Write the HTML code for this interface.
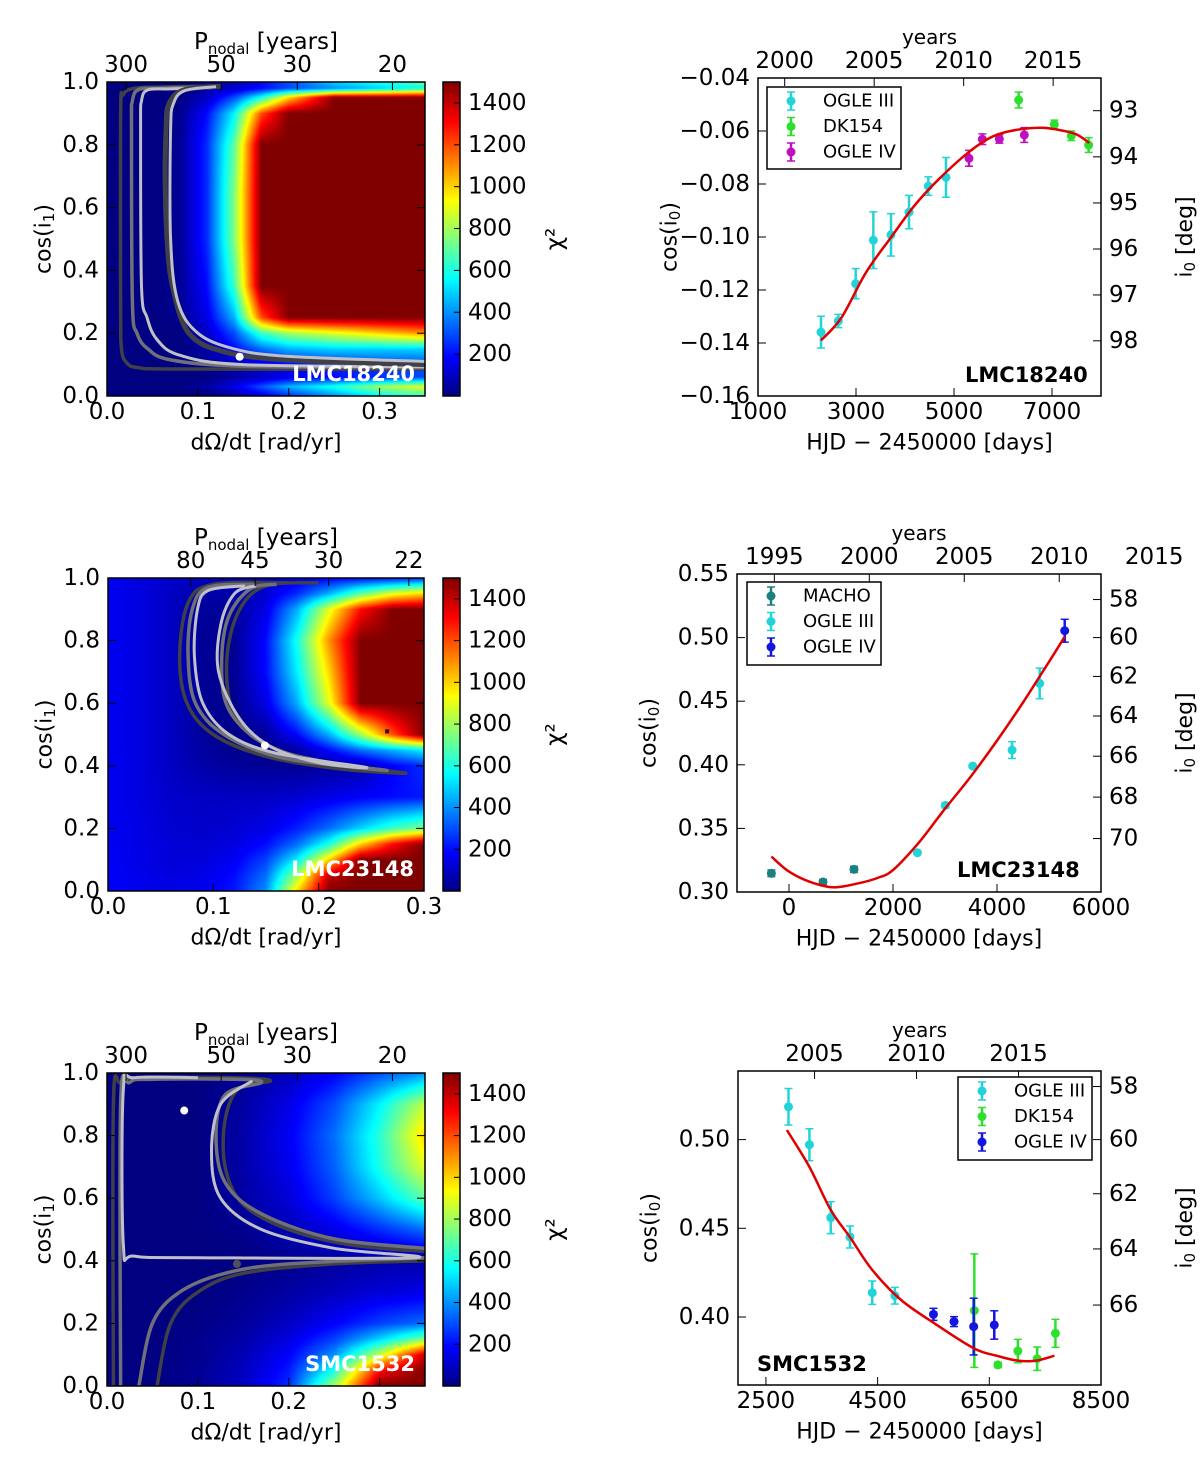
<!DOCTYPE html>
<html><head><meta charset="utf-8">
<style>
html,body{margin:0;padding:0;background:#fff;}
#wrap{position:relative;width:1200px;height:1480px;overflow:hidden;background:#fff;}
canvas{position:absolute;}
svg{position:absolute;left:0;top:0;}
text{font-family:"DejaVu Sans","Liberation Sans",sans-serif;fill:#000;}
</style></head>
<body>
<div id="wrap">
<canvas id="h1"></canvas>
<canvas id="h2"></canvas>
<canvas id="h3"></canvas>
<canvas id="cb1"></canvas>
<canvas id="cb2"></canvas>
<canvas id="cb3"></canvas>
<svg id="svg" width="1200" height="1480" xmlns="http://www.w3.org/2000/svg"></svg>
</div>
<script>
// ---------- heatmap data (chi2 grids) ----------
const p1_xs=[0,0.05,0.08,0.11,0.14,0.17,0.2,0.25,0.3,0.35];
const p1_ys=[0,0.03,0.06,0.1,0.15,0.2,0.25,0.35,0.5,0.65,0.8,0.9,0.95,0.98,1.0];
const p1_chi2=[
[0,0,0,0,50,150,250,400,550,650],
[0,0,0,50,150,300,450,600,800,900],
[0,0,0,0,50,100,150,200,250,300],
[0,0,0,30,80,150,200,250,280,300],
[0,0,0,60,200,350,450,500,500,500],
[0,0,0,100,300,650,800,900,1000,1100],
[0,0,20,150,450,1200,1500,1500,1500,1500],
[0,0,30,200,650,1500,1500,1500,1500,1500],
[0,0,30,250,750,1500,1500,1500,1500,1500],
[0,0,30,250,750,1500,1500,1500,1500,1500],
[0,0,30,250,700,1500,1500,1500,1500,1500],
[0,0,20,200,550,1200,1500,1500,1500,1500],
[0,0,0,100,300,600,1000,1500,1500,1500],
[0,0,0,50,100,200,300,400,500,600],
[0,0,0,50,100,200,300,500,600,700]];
const p2_xs=[0,0.03,0.06,0.09,0.12,0.15,0.18,0.21,0.24,0.27,0.3];
const p2_ys=[0,0.05,0.1,0.15,0.2,0.3,0.4,0.45,0.5,0.6,0.7,0.8,0.9,0.95,1.0];
const p2_chi2=[
[180,160,150,160,220,400,1000,1500,1500,1500,1500],
[180,160,140,150,200,350,800,1400,1500,1500,1500],
[180,150,130,130,170,280,550,1000,1500,1500,1500],
[170,150,130,120,140,200,350,600,1000,1300,1500],
[170,150,120,110,120,150,230,350,500,650,750],
[170,140,110,100,100,100,120,150,180,200,220],
[170,140,100,60,40,30,30,40,60,180,250],
[170,140,100,50,20,20,50,200,350,450,550],
[170,140,100,40,10,40,200,450,800,1200,1500],
[170,140,100,30,20,150,450,900,1500,1500,1500],
[170,140,100,30,30,200,550,1000,1500,1500,1500],
[170,140,100,30,30,200,600,1100,1500,1500,1500],
[170,140,100,40,40,150,450,900,1300,1500,1500],
[170,140,100,60,60,120,250,450,700,900,1000],
[170,140,110,100,100,120,150,180,200,220,250]];
const p3_xs=[0,0.05,0.1,0.15,0.2,0.25,0.3,0.35];
const p3_ys=[0,0.05,0.1,0.15,0.2,0.3,0.4,0.5,0.6,0.7,0.8,0.9,1.0];
const p3_chi2=[
[0,0,30,100,250,800,1500,1500],
[0,0,30,90,220,600,1300,1500],
[0,0,20,80,180,400,850,1400],
[0,0,20,60,140,280,500,750],
[0,0,10,40,100,180,280,350],
[0,0,0,20,50,90,130,150],
[0,0,0,0,20,40,60,60],
[0,0,0,20,80,150,250,350],
[0,0,0,50,130,280,480,700],
[0,0,0,60,160,330,600,900],
[0,0,0,60,170,350,620,1000],
[0,0,0,50,150,300,550,850],
[0,0,0,30,90,180,300,400]];
// contours [x,y] in data units
const p1_contour_dark1=[[0.126,0.987],[0.06,0.984],[0.03,0.98],[0.018,0.96],[0.015,0.9],[0.015,0.3],[0.016,0.15],[0.022,0.105],[0.035,0.09],[0.08,0.086],[0.35,0.085]];
const p1_contour_gray1=[[0.11,0.985],[0.06,0.98],[0.035,0.976],[0.028,0.94],[0.027,0.85],[0.028,0.3],[0.033,0.2],[0.045,0.15],[0.07,0.115],[0.15,0.095],[0.35,0.09]];
const p1_contour_light1=[[0.115,0.982],[0.07,0.978],[0.045,0.975],[0.038,0.94],[0.037,0.85],[0.038,0.35],[0.044,0.25],[0.055,0.18],[0.08,0.13],[0.15,0.1],[0.35,0.093]];
const p1_contour_dark2=[[0.126,0.987],[0.085,0.975],[0.068,0.93],[0.065,0.85],[0.064,0.7],[0.066,0.5],[0.072,0.35],[0.09,0.2],[0.13,0.14],[0.2,0.115],[0.35,0.1]];
const p1_contour_light2=[[0.12,0.985],[0.085,0.972],[0.073,0.93],[0.07,0.85],[0.07,0.5],[0.078,0.3],[0.1,0.2],[0.14,0.15],[0.2,0.126],[0.35,0.11]];
const p1_best=[0.146,0.125];
const p2_contour_dark=[[0.17,0.985],[0.1,0.98],[0.076,0.92],[0.068,0.75],[0.075,0.6],[0.1,0.5],[0.15,0.43],[0.22,0.39],[0.282,0.376],[0.25,0.39],[0.19,0.42],[0.145,0.48],[0.118,0.58],[0.113,0.75],[0.125,0.9],[0.15,0.975],[0.2,0.985]];
const p2_contour_gray=[[0.14,0.98],[0.095,0.97],[0.08,0.9],[0.076,0.75],[0.083,0.6],[0.11,0.5],[0.16,0.43],[0.22,0.4],[0.265,0.385],[0.22,0.405],[0.17,0.44],[0.135,0.5],[0.112,0.6],[0.108,0.75],[0.115,0.88],[0.135,0.965],[0.16,0.98]];
const p2_contour_light=[[0.13,0.975],[0.095,0.96],[0.085,0.9],[0.082,0.75],[0.09,0.6],[0.115,0.5],[0.16,0.44],[0.245,0.395],[0.2,0.41],[0.155,0.46],[0.125,0.55],[0.105,0.7],[0.107,0.85],[0.12,0.95],[0.14,0.975]];
const p2_best=[0.149,0.465];
const p3_contour_dark1=[[0.007,0],[0.007,0.9],[0.015,0.97],[0.035,0.985],[0.14,0.985],[0.18,0.975],[0.145,0.95],[0.13,0.85],[0.13,0.7],[0.15,0.58],[0.2,0.5],[0.27,0.45],[0.35,0.43]];
const p3_contour_dark2=[[0.055,0],[0.07,0.2],[0.1,0.3],[0.15,0.36],[0.25,0.39],[0.35,0.4]];
const p3_contour_gray1=[[0.015,0],[0.015,0.9],[0.025,0.97],[0.05,0.98],[0.14,0.98],[0.17,0.97],[0.13,0.93],[0.12,0.8],[0.13,0.65],[0.17,0.55],[0.25,0.47],[0.35,0.44]];
const p3_contour_gray2=[[0.035,0],[0.05,0.2],[0.08,0.3],[0.13,0.36],[0.2,0.39],[0.35,0.41]];
const p3_contour_light=[[0.1,0.985],[0.03,0.985],[0.018,0.95],[0.018,0.45],[0.03,0.415],[0.1,0.41],[0.34,0.41],[0.25,0.44],[0.17,0.5],[0.125,0.6],[0.115,0.75],[0.125,0.9],[0.16,0.975]];
const p3_best=[0.085,0.88];
const p3_mark=[0.143,0.39];
// colorbar ticks
const cb_ticks=[200,400,600,800,1000,1200,1400];
// ---------- right panels data ----------
const r1_ogle3_t=[2286,2639,2993,3354,3714,4082,4476,4837];
const r1_ogle3_v=[-0.1359,-0.1317,-0.1176,-0.1012,-0.0992,-0.0906,-0.0808,-0.0775];
const r1_ogle3_e=[0.006,0.0025,0.0057,0.0107,0.008,0.0063,0.0035,0.0075];
const r1_dk_t=[6320,7047,7394,7748];
const r1_dk_v=[-0.0483,-0.0575,-0.0618,-0.0653];
const r1_dk_e=[0.003,0.0016,0.0018,0.0028];
const r1_ogle4_t=[5306,5578,5925,6435];
const r1_ogle4_v=[-0.0703,-0.0631,-0.063,-0.0615];
const r1_ogle4_e=[0.003,0.002,0.0016,0.0028];
const r1_fit_t=[2286,2700,3200,3700,4200,4700,5300,5800,6300,6800,7200,7500,7760];
const r1_fit_v=[-0.139,-0.1305,-0.1135,-0.1005,-0.088,-0.078,-0.068,-0.062,-0.0595,-0.0588,-0.0598,-0.0613,-0.0645];
const r2_macho_t=[-339,654,1250];
const r2_macho_v=[0.3147,0.3079,0.3178];
const r2_macho_e=[0.0026,0.002,0.0024];
const r2_ogle3_t=[2469,3007,3533,4290,4821];
const r2_ogle3_v=[0.3309,0.3681,0.399,0.4116,0.464];
const r2_ogle3_e=[0.001,0.002,0.001,0.0066,0.012];
const r2_ogle4_t=[5302];
const r2_ogle4_v=[0.5054];
const r2_ogle4_e=[0.009];
const r2_fit_t=[-339,0,400,850,1300,1700,2000,2500,3000,3500,4000,4500,5000,5302];
const r2_fit_v=[0.3278,0.316,0.308,0.3037,0.3065,0.311,0.3173,0.339,0.3655,0.391,0.419,0.449,0.481,0.5007];
const r3_ogle3_t=[2904,3279,3661,4005,4404,4809];
const r3_ogle3_v=[0.5185,0.4971,0.456,0.4451,0.4137,0.412];
const r3_ogle3_e=[0.0103,0.009,0.009,0.0062,0.0066,0.0047];
const r3_dk_t=[6232,6654,7011,7357,7684];
const r3_dk_v=[0.4036,0.373,0.3808,0.3765,0.3908];
const r3_dk_e=[0.032,0.0015,0.0066,0.0066,0.0079];
const r3_ogle4_t=[5500,5868,6220,6589];
const r3_ogle4_v=[0.4015,0.3974,0.3946,0.3955];
const r3_ogle4_e=[0.0034,0.0028,0.016,0.008];
const r3_fit_t=[2875,3279,3661,4005,4404,4921,5518,6220,6650,7011,7339,7666];
const r3_fit_v=[0.5054,0.4846,0.4603,0.445,0.4265,0.4096,0.3964,0.3824,0.378,0.3754,0.3754,0.3782];

// ---------- helpers ----------
const NS='http://www.w3.org/2000/svg';
const svg=document.getElementById('svg');
function mk(tag,attrs,name,parent){
  const el=document.createElementNS(NS,tag);
  for(const k in attrs) el.setAttribute(k,attrs[k]);
  
  
  (parent||svg).appendChild(el);
  return el;
}
function txt(x,y,s,name,opts){
  opts=opts||{};
  const t=mk('text',{x:x,y:y,'font-size':opts.size||23,'text-anchor':opts.anchor||'middle','dominant-baseline':'central'},name);
  if(opts.weight) t.setAttribute('font-weight',opts.weight);
  if(opts.fill) t.setAttribute('style','fill:'+opts.fill);
  if(opts.rot) t.setAttribute('transform','rotate('+opts.rot+' '+x+' '+y+')');
  t.textContent=s;
  return t;
}
function jet(t){
  t=Math.max(0,Math.min(1,t));
  const c=v=>Math.round(255*Math.max(0,Math.min(1,v)));
  return [c(1.5-Math.abs(4*t-3)),c(1.5-Math.abs(4*t-2)),c(1.5-Math.abs(4*t-1))];
}
function idx(arr,v){for(let i=0;i<arr.length-1;i++){if(v<=arr[i+1])return i;}return arr.length-2;}
function drawHeat(id,box,xmax,xs,ys,vals){
  const cv=document.getElementById(id);
  const W=box.x1-box.x0,H=box.y1-box.y0;
  cv.width=W;cv.height=H;cv.style.left=box.x0+'px';cv.style.top=box.y0+'px';
  const ctx=cv.getContext('2d');const img=ctx.createImageData(W,H);
  for(let py=0;py<H;py++){
    const y=1-(py+0.5)/H;const j=idx(ys,y);const fy=(y-ys[j])/(ys[j+1]-ys[j]);
    for(let px=0;px<W;px++){
      const x=(px+0.5)/W*xmax;const i=idx(xs,x);const fx=(x-xs[i])/(xs[i+1]-xs[i]);
      const v=(vals[j][i]*(1-fx)+vals[j][i+1]*fx)*(1-fy)+(vals[j+1][i]*(1-fx)+vals[j+1][i+1]*fx)*fy;
      const c=jet(v/1500);const k=(py*W+px)*4;
      img.data[k]=c[0];img.data[k+1]=c[1];img.data[k+2]=c[2];img.data[k+3]=255;
    }
  }
  ctx.putImageData(img,0,0);
}
function drawColorbar(id,box){
  const cv=document.getElementById(id);
  const W=box.x1-box.x0,H=box.y1-box.y0;
  cv.width=W;cv.height=H;cv.style.left=box.x0+'px';cv.style.top=box.y0+'px';
  const ctx=cv.getContext('2d');
  for(let py=0;py<H;py++){const c=jet(1-py/H);ctx.fillStyle='rgb('+c+')';ctx.fillRect(0,py,W,1);}
  mk('rect',{x:box.x0,y:box.y0,width:W,height:H,fill:'none',stroke:'#000','stroke-width':1.5},'colorbar-frame');
  const sy=v=>box.y1-v/1500*H;
  cb_ticks.forEach(v=>{
    mk('line',{x1:box.x1-6,x2:box.x1,y1:sy(v),y2:sy(v),stroke:'#000','stroke-width':1},'colorbar-tick');
    txt(box.x1+8,sy(v),String(v),'colorbar-tick-label',{anchor:'start'});
  });
  txt(box.x1+95,(box.y0+box.y1)/2,'χ²','colorbar-label',{rot:-90,size:23});
}
function smoothPath(xs,ys,sx,sy){
  const P=xs.map((x,i)=>[sx(x),sy(ys[i])]);
  let d='M'+P[0][0].toFixed(1)+' '+P[0][1].toFixed(1);
  for(let i=0;i<P.length-1;i++){
    const p0=P[Math.max(0,i-1)],p1=P[i],p2=P[i+1],p3=P[Math.min(P.length-1,i+2)];
    const c1=[p1[0]+(p2[0]-p0[0])/6,p1[1]+(p2[1]-p0[1])/6];
    const c2=[p2[0]-(p3[0]-p1[0])/6,p2[1]-(p3[1]-p1[1])/6];
    d+=' C'+c1.map(v=>v.toFixed(1)).join(' ')+' '+c2.map(v=>v.toFixed(1)).join(' ')+' '+p2[0].toFixed(1)+' '+p2[1].toFixed(1);
  }
  return d;
}

// ---------- left panels ----------
function leftPanel(n,box,xmax,xticks,ptop,xs,ys,vals,contours,label,extras){
  drawHeat('h'+n,box,xmax,xs,ys,vals);
  const sx=x=>box.x0+x/xmax*(box.x1-box.x0);
  const sy=y=>box.y1-y*(box.y1-box.y0);
  const cp=mk('clipPath',{id:'clipL'+n},'clip');
  mk('rect',{x:box.x0,y:box.y0,width:box.x1-box.x0,height:box.y1-box.y0},'clip-rect',cp);
  const g=mk('g',{'clip-path':'url(#clipL'+n+')'},'contour-group');
  contours.forEach(c=>{
    mk('path',{d:smoothPath(c.pts.map(p=>p[0]),c.pts.map(p=>p[1]),sx,sy),fill:'none',stroke:c.col,'stroke-width':c.w||3.5,'stroke-linejoin':'round'},'contour-line',g);
  });
  extras(sx,sy,g);
  txt(box.x1-10,box.y1-22,label,'panel-label',{anchor:'end',weight:'bold',fill:'#fff',size:21});
  mk('rect',{x:box.x0,y:box.y0,width:box.x1-box.x0,height:box.y1-box.y0,fill:'none',stroke:'#000','stroke-width':1.5},'plot-frame');
  xticks.forEach(v=>{
    mk('line',{x1:sx(v),x2:sx(v),y1:box.y1,y2:box.y1-8,stroke:'#000'},'x-tick');
    txt(sx(v),box.y1+16,v.toFixed(1),'x-tick-label');
  });
  [0,0.2,0.4,0.6,0.8,1.0].forEach(v=>{
    mk('line',{x1:box.x0,x2:box.x0+8,y1:sy(v),y2:sy(v),stroke:'#000'},'y-tick');
    mk('line',{x1:box.x1,x2:box.x1-8,y1:sy(v),y2:sy(v),stroke:'#000'},'y-tick-right');
    txt(box.x0-8,sy(v),v.toFixed(1),'y-tick-label',{anchor:'end'});
  });
  ptop.forEach(P=>{
    const x=sx(2*Math.PI/P);
    mk('line',{x1:x,x2:x,y1:box.y0,y2:box.y0+8,stroke:'#000'},'top-tick');
    txt(x,box.y0-17,String(P),'top-tick-label');
  });
  const t=mk('text',{x:(box.x0+box.x1)/2,y:box.y0-40,'font-size':23,'text-anchor':'middle','dominant-baseline':'central'},'top-axis-title');
  t.innerHTML='P<tspan font-size="15" dy="7">nodal</tspan><tspan dy="-7"> [years]</tspan>';
  txt((box.x0+box.x1)/2,box.y1+47,'dΩ/dt [rad/yr]','x-axis-title',{size:22});
  const yl=mk('text',{x:box.x0-63,y:(box.y0+box.y1)/2,'font-size':22,'text-anchor':'middle','dominant-baseline':'central',transform:'rotate(-90 '+(box.x0-63)+' '+((box.y0+box.y1)/2)+')'},'y-axis-title');
  yl.innerHTML='cos(i<tspan font-size="15" dy="5">1</tspan><tspan dy="-5">)</tspan>';
}
const DK='#404048',GR='#707078',LT='#c0c0c8';
leftPanel(1,{x0:107,x1:425,y0:82,y1:396},0.35,[0,0.1,0.2,0.3],[300,50,30,20],p1_xs,p1_ys,p1_chi2,
 [{pts:p1_contour_dark1,col:DK},{pts:p1_contour_gray1,col:GR},{pts:p1_contour_light1,col:LT,w:3},{pts:p1_contour_dark2,col:DK,w:5},{pts:p1_contour_light2,col:LT,w:3}],
 'LMC18240',(sx,sy,g)=>{mk('circle',{cx:sx(p1_best[0]),cy:sy(p1_best[1]),r:4,fill:'#fff'},'best-fit-point',g);});
drawColorbar('cb1',{x0:443,x1:460,y0:82,y1:396});
leftPanel(2,{x0:108,x1:424,y0:578,y1:891},0.3,[0,0.1,0.2,0.3],[80,45,30,22],p2_xs,p2_ys,p2_chi2,
 [{pts:p2_contour_dark,col:DK},{pts:p2_contour_gray,col:GR},{pts:p2_contour_light,col:LT,w:3}],
 'LMC23148',(sx,sy,g)=>{mk('circle',{cx:sx(p2_best[0]),cy:sy(p2_best[1]),r:4,fill:'#fff'},'best-fit-point',g);
   mk('rect',{x:sx(0.265)-2,y:sy(0.51)-2,width:4,height:4,fill:'#400'},'local-minimum',g);});
drawColorbar('cb2',{x0:443,x1:460,y0:578,y1:891});
leftPanel(3,{x0:107,x1:425,y0:1073,y1:1386},0.35,[0,0.1,0.2,0.3],[300,50,30,20],p3_xs,p3_ys,p3_chi2,
 [{pts:p3_contour_dark1,col:DK},{pts:p3_contour_dark2,col:DK},{pts:p3_contour_gray1,col:GR},{pts:p3_contour_gray2,col:GR},{pts:p3_contour_light,col:LT,w:3}],
 'SMC1532',(sx,sy,g)=>{mk('circle',{cx:sx(p3_best[0]),cy:sy(p3_best[1]),r:4,fill:'#fff'},'best-fit-point',g);
   mk('circle',{cx:sx(p3_mark[0]),cy:sy(p3_mark[1]),r:4,fill:'#505058'},'secondary-point',g);});
drawColorbar('cb3',{x0:443,x1:460,y0:1073,y1:1386});

// ---------- right panels ----------
function rightPanel(box,tmin,tmax,vmin,vmax,xticks,yticks,ydec,years,degs,series,fit,legendBox,label,labelPos){
  const sx=t=>box.x0+(t-tmin)/(tmax-tmin)*(box.x1-box.x0);
  const sy=v=>box.y1-(v-vmin)/(vmax-vmin)*(box.y1-box.y0);
  mk('rect',{x:box.x0,y:box.y0,width:box.x1-box.x0,height:box.y1-box.y0,fill:'#fff',stroke:'none'},'plot-background');
  const cp=mk('clipPath',{id:'clipR'+box.y0},'clip');
  mk('rect',{x:box.x0,y:box.y0,width:box.x1-box.x0,height:box.y1-box.y0},'clip-rect',cp);
  const g=mk('g',{'clip-path':'url(#clipR'+box.y0+')'},'series-group');
  series.forEach(s=>{
    s.t.forEach((t,i)=>{
      const x=sx(t),y=sy(s.v[i]),ya=sy(s.v[i]+s.e[i]),yb=sy(s.v[i]-s.e[i]);
      mk('line',{x1:x,x2:x,y1:ya,y2:yb,stroke:s.col,'stroke-width':2.5},'error-bar',g);
      mk('line',{x1:x-4,x2:x+4,y1:ya,y2:ya,stroke:s.col,'stroke-width':1.5},'error-cap',g);
      mk('line',{x1:x-4,x2:x+4,y1:yb,y2:yb,stroke:s.col,'stroke-width':1.5},'error-cap',g);
      mk('circle',{cx:x,cy:y,r:4.5,fill:s.col},'data-point',g);
    });
  });
  mk('path',{d:smoothPath(fit.t,fit.v,sx,sy),fill:'none',stroke:'#e00000','stroke-width':2.5},'fit-curve',g);
  mk('rect',{x:box.x0,y:box.y0,width:box.x1-box.x0,height:box.y1-box.y0,fill:'none',stroke:'#000','stroke-width':1.5},'plot-frame');
  xticks.forEach(v=>{
    mk('line',{x1:sx(v),x2:sx(v),y1:box.y1,y2:box.y1-8,stroke:'#000'},'x-tick');
    txt(sx(v),box.y1+16,String(v),'x-tick-label');
  });
  yticks.forEach(v=>{
    mk('line',{x1:box.x0,x2:box.x0+8,y1:sy(v),y2:sy(v),stroke:'#000'},'y-tick');
    txt(box.x0-8,sy(v),(v<0?'−':'')+Math.abs(v).toFixed(ydec),'y-tick-label',{anchor:'end'});
  });
  years.forEach(yr=>{
    const x=sx((yr-2000)*365.25+1544.5);
    if(x<=box.x1+1) mk('line',{x1:x,x2:x,y1:box.y0,y2:box.y0+8,stroke:'#000'},'top-tick');
    txt(x,box.y0-17,String(yr),'top-tick-label');
  });
  degs.forEach(d=>{
    const y=sy(Math.cos(d*Math.PI/180));
    mk('line',{x1:box.x1,x2:box.x1-8,y1:y,y2:y,stroke:'#000'},'right-tick');
    txt(box.x1+8,y,String(d),'right-tick-label',{anchor:'start'});
  });
  txt((box.x0+box.x1)/2,box.y0-41,'years','top-axis-title',{size:20});
  txt((box.x0+box.x1)/2,box.y1+47,'HJD − 2450000 [days]','x-axis-title',{size:22});
  const yl=mk('text',{x:box.x0-88,y:(box.y0+box.y1)/2,'font-size':22,'text-anchor':'middle','dominant-baseline':'central',transform:'rotate(-90 '+(box.x0-88)+' '+((box.y0+box.y1)/2)+')'},'y-axis-title');
  yl.innerHTML='cos(i<tspan font-size="15" dy="5">0</tspan><tspan dy="-5">)</tspan>';
  const rl=mk('text',{x:1185,y:(box.y0+box.y1)/2,'font-size':22,'text-anchor':'middle','dominant-baseline':'central',transform:'rotate(-90 1185 '+((box.y0+box.y1)/2)+')'},'right-axis-title');
  rl.innerHTML='i<tspan font-size="15" dy="5">0</tspan><tspan dy="-5"> [deg]</tspan>';
  const L=legendBox;
  mk('rect',{x:L.x,y:L.y,width:L.w,height:L.h,fill:'#fff',stroke:'#000','stroke-width':1.5},'legend-box');
  series.forEach((s,i)=>{
    const y=L.y+14+i*25.5,x=L.x+24;
    mk('line',{x1:x,x2:x,y1:y-9,y2:y+9,stroke:s.col,'stroke-width':2.5},'legend-errorbar');
    mk('line',{x1:x-4,x2:x+4,y1:y-9,y2:y-9,stroke:s.col,'stroke-width':1.5},'legend-cap');
    mk('line',{x1:x-4,x2:x+4,y1:y+9,y2:y+9,stroke:s.col,'stroke-width':1.5},'legend-cap');
    mk('circle',{cx:x,cy:y,r:4.5,fill:s.col},'legend-marker');
    txt(L.x+56,y,s.name,'legend-entry',{anchor:'start',size:18});
  });
  txt(labelPos[0],labelPos[1],label,'panel-label',{anchor:'start',weight:'bold',size:21});
}
const CY='#22d3d8',GRN='#2ee02e',MAG='#bf10bf',TEAL='#1a8080',BLU='#1515e0';
rightPanel({x0:758,x1:1101,y0:78,y1:396},1000,8000,-0.16,-0.04,[1000,3000,5000,7000],[-0.16,-0.14,-0.12,-0.10,-0.08,-0.06,-0.04],2,
 [2000,2005,2010,2015],[93,94,95,96,97,98],
 [{name:'OGLE III',t:r1_ogle3_t,v:r1_ogle3_v,e:r1_ogle3_e,col:CY},{name:'DK154',t:r1_dk_t,v:r1_dk_v,e:r1_dk_e,col:GRN},{name:'OGLE IV',t:r1_ogle4_t,v:r1_ogle4_v,e:r1_ogle4_e,col:MAG}],
 {t:r1_fit_t,v:r1_fit_v},{x:767,y:87,w:134,h:82},'LMC18240',[965,375]);
rightPanel({x0:737,x1:1101,y0:574,y1:892},-1000,6000,0.30,0.55,[0,2000,4000,6000],[0.30,0.35,0.40,0.45,0.50,0.55],2,
 [1995,2000,2005,2010,2015],[58,60,62,64,66,68,70],
 [{name:'MACHO',t:r2_macho_t,v:r2_macho_v,e:r2_macho_e,col:TEAL},{name:'OGLE III',t:r2_ogle3_t,v:r2_ogle3_v,e:r2_ogle3_e,col:CY},{name:'OGLE IV',t:r2_ogle4_t,v:r2_ogle4_v,e:r2_ogle4_e,col:BLU}],
 {t:r2_fit_t,v:r2_fit_v},{x:747,y:582,w:134,h:83},'LMC23148',[957,870]);
rightPanel({x0:738,x1:1101,y0:1071,y1:1385},2000,8500,0.4-68/1774,0.4+246/1774,[2500,4500,6500,8500],[0.40,0.45,0.50],2,
 [2005,2010,2015],[58,60,62,64,66],
 [{name:'OGLE III',t:r3_ogle3_t,v:r3_ogle3_v,e:r3_ogle3_e,col:CY},{name:'DK154',t:r3_dk_t,v:r3_dk_v,e:r3_dk_e,col:GRN},{name:'OGLE IV',t:r3_ogle4_t,v:r3_ogle4_v,e:r3_ogle4_e,col:BLU}],
 {t:r3_fit_t,v:r3_fit_v},{x:958,y:1077,w:134,h:83},'SMC1532',[757,1364]);
</script>
</body></html>
